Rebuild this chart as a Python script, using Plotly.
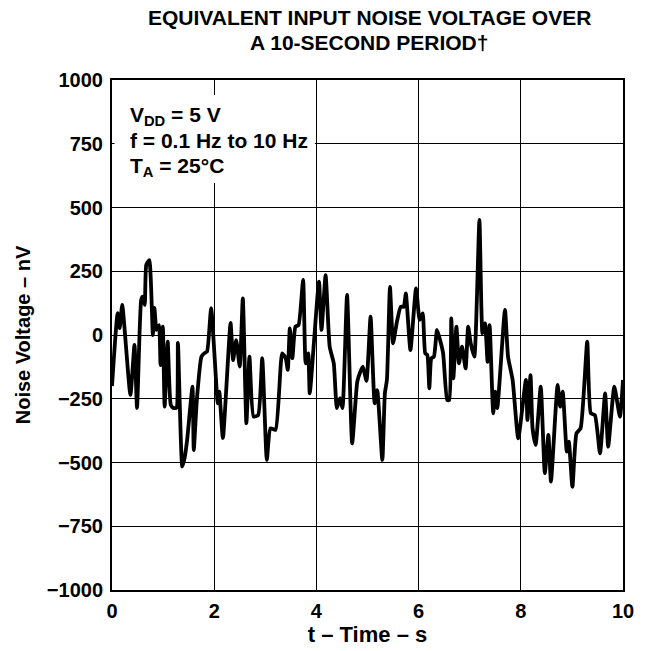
import plotly.graph_objects as go

# Equivalent input noise voltage, 0.1 Hz to 10 Hz band, over 10 s
time_s = [
    0.00, 0.11, 0.15, 0.20, 0.36, 0.44, 0.49, 0.57, 0.60, 0.64, 0.67, 0.73,
    0.80, 0.83, 0.87, 0.92, 0.95, 0.995, 1.03, 1.09, 1.15, 1.20, 1.26, 1.29,
    1.375, 1.42, 1.47, 1.575, 1.60, 1.66, 1.75, 1.81, 1.86, 1.94, 2.07, 2.10,
    2.17, 2.32, 2.37, 2.43, 2.50, 2.56, 2.63, 2.69, 2.77, 2.86, 2.94, 3.03,
    3.10, 3.20, 3.33, 3.40, 3.44, 3.48, 3.53, 3.59, 3.65, 3.74, 3.79, 3.84,
    3.87, 4.05, 4.10, 4.18, 4.26, 4.34, 4.40, 4.46, 4.51, 4.60, 4.70, 4.80,
    4.86, 4.91, 4.98, 5.06, 5.14, 5.19, 5.29, 5.34, 5.38, 5.44, 5.50, 5.57,
    5.65, 5.71, 5.75, 5.84, 5.95, 6.02, 6.08, 6.13, 6.17, 6.21, 6.25, 6.30,
    6.36, 6.42, 6.48, 6.56, 6.60, 6.64, 6.68, 6.74, 6.79, 6.85, 6.92, 6.97,
    7.02, 7.09, 7.19, 7.25, 7.30, 7.35, 7.39, 7.46, 7.50, 7.54, 7.69, 7.75,
    7.84, 7.95, 8.10, 8.13, 8.19, 8.23, 8.29, 8.39, 8.47, 8.54, 8.59, 8.72,
    8.77, 8.82, 8.90, 8.94, 9.01, 9.09, 9.17, 9.30, 9.37, 9.45, 9.55, 9.65,
    9.71, 9.83, 9.94, 10.00,
]
noise_nv = [
    -200, 86, 27, 118, -235, -39, -286, 137, 150, 118, 274, 294,
    0, 106, 20, 39, -118, 33, -281, -26, -274, -286, -286, -31,
    -516, -483, -412, -203, -451, -255, -85, -71, -65, 105, -268, -222,
    -404, 47, -98, -20, -124, 144, -346, -85, -320, -314, -91, -490,
    -366, -372, -72, -91, -137, 26, -91, 33, 39, 216, -111, -72,
    -229, 209, 20, 235, -46, -111, -287, -248, -287, 157, -425, -183,
    -144, -124, -180, 72, -268, -216, -490, -229, -176, 189, -33, 46,
    111, 111, 163, -59, 183, 59, 85, -72, -78, -209, -91, -85,
    20, -20, -72, -255, -255, 65, -170, 33, -111, -46, -131, 33,
    -33, -85, 451, 7, 46, -105, 39, -307, -222, -287, 98, -85,
    -176, -405, -176, -333, -157, -366, -431, -203, -542, -392, -575, -196,
    -281, -222, -457, -418, -595, -385, -366, -26, -307, -314, -464, -229,
    -438, -203, -320, -176,
]

x_ticks = [0, 2, 4, 6, 8, 10]
y_ticks = [1000, 750, 500, 250, 0, -250, -500, -750, -1000]
y_tick_text = [str(v).replace("-", "\u2212") for v in y_ticks]

title_lines = ["EQUIVALENT INPUT NOISE VOLTAGE OVER", "A 10-SECOND PERIOD†"]
conditions = ["V<sub>DD</sub> = 5 V", "f = 0.1 Hz to 10 Hz", "T<sub>A</sub> = 25°C"]
x_title = "t – Time – s"
y_title = "Noise Voltage – nV"

FONT = "Liberation Sans, Arial, Helvetica, sans-serif"


def bold_font(size):
    return dict(family=FONT, size=size, color="black", weight="bold")


fig = go.Figure()
fig.add_trace(go.Scatter(
    x=time_s, y=noise_nv, mode="lines",
    line=dict(color="black", width=3.8, shape="spline", smoothing=0.5),
    hoverinfo="skip", showlegend=False,
))

# white panel behind the test-condition text
fig.add_shape(type="rect", xref="x", yref="y", x0=0.05, x1=3.97, y0=596, y1=941,
              fillcolor="white", line=dict(width=0), layer="between")

for txt, yp in zip(conditions, [0.930, 0.882, 0.830]):
    fig.add_annotation(text=txt, xref="paper", yref="paper",
                       x=0.031, y=yp, xanchor="left", yanchor="middle",
                       showarrow=False, font=bold_font(21))

for txt, yp in zip(title_lines, [1.1216, 1.0745]):
    fig.add_annotation(text=txt, xref="paper", yref="paper",
                       x=0.503, y=yp, xanchor="center", yanchor="middle",
                       showarrow=False, font=bold_font(21))

axis_common = dict(
    showgrid=True, gridcolor="black", gridwidth=1,
    showline=True, linecolor="black", linewidth=2, mirror=True,
    zeroline=False, ticks="", automargin=False,
    tickfont=bold_font(20),
)

fig.update_xaxes(range=[0, 10], tickvals=x_ticks,
                 ticktext=[str(v) for v in x_ticks],
                 ticklabelstandoff=2,
                 title=dict(text=f"<b>{x_title}</b>", standoff=6, font=bold_font(22)),
                 **axis_common)
fig.update_yaxes(range=[-1000, 1000], tickvals=y_ticks, ticktext=y_tick_text,
                 ticklabelstandoff=3,
                 title=dict(text=f"<b>{y_title}</b>", standoff=11, font=bold_font(20)),
                 **axis_common)

fig.update_layout(
    width=648, height=651,
    margin=dict(l=112, r=25, t=80, b=61),
    paper_bgcolor="white", plot_bgcolor="white",
)

fig.write_html("out.html")
